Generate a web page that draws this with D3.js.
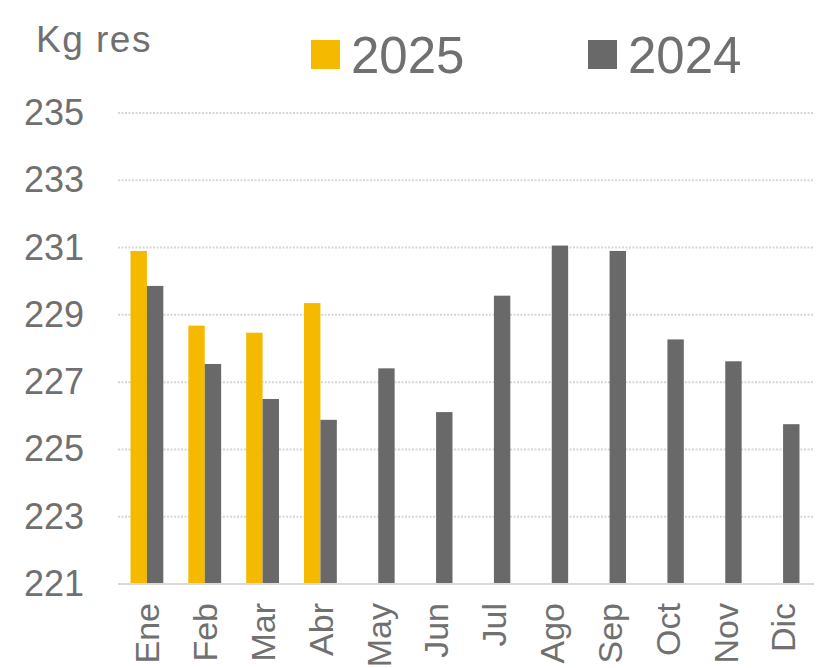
<!DOCTYPE html>
<html>
<head>
<meta charset="utf-8">
<script src="https://cdn.jsdelivr.net/npm/d3@7"></script>
<style>
  body { margin: 0; background: #fff; }
  text { font-family: "Liberation Sans", Arial, sans-serif; fill: #707070; }
</style>
</head>
<body>
<div id="chart"></div>
<script>
const months = ["Ene", "Feb", "Mar", "Abr", "May", "Jun", "Jul", "Ago", "Sep", "Oct", "Nov", "Dic"] ;
const series = ["2025", "2024"] ;
const vals2025 = [230.9, 228.68, 228.47, 229.35, null, null, null, null, null, null, null, null] ;
const vals2024 = [229.86, 227.54, 226.5, 225.88, 227.41, 226.11, 229.57, 231.06, 230.9, 228.27, 227.62, 225.75] ;
const yTicks = [221, 223, 225, 227, 229, 231, 233, 235] ;
const colors = {"2025": "#f5ba00", "2024": "#696969"} ;

const dims = {
  width: 824,
  height: 668,
  margin: {top: 113, right: 10, bottom: 84, left: 118},
} ;
dims.boundedWidth = dims.width - dims.margin.left - dims.margin.right ;
dims.boundedHeight = dims.height - dims.margin.top - dims.margin.bottom ;

const svg = d3.select("#chart").append("svg")
    .attr("width", dims.width)
    .attr("height", dims.height) ;

const bounds = svg.append("g")
    .attr("transform", `translate(${dims.margin.left},${dims.margin.top})`) ;

const xScale = d3.scaleBand()
  .domain(months)
  .range([0, 694])
  .paddingInner(0.433)
  .paddingOuter(0.2165) ;

const xSub = d3.scaleBand()
  .domain(series)
  .range([0, xScale.bandwidth()]) ;

const yScale = d3.scaleLinear()
  .domain([221, 235])
  .range([dims.boundedHeight, 0]) ;

// gridlines
bounds.append("g")
  .selectAll("line")
  .data(yTicks.filter(d => d > 221))
  .join("line")
    .attr("x1", 0)
    .attr("x2", 696)
    .attr("y1", d => yScale(d))
    .attr("y2", d => yScale(d))
    .attr("stroke", "#d6d6d6")
    .attr("stroke-width", 2)
    .attr("stroke-dasharray", "2,1.5") ;

// bars
const rows = months.map((m, i) => ({month: m, values: [
  {key: "2025", value: vals2025[i]},
  {key: "2024", value: vals2024[i]},
]})) ;

bounds.append("g")
  .selectAll("g")
  .data(rows)
  .join("g")
    .attr("transform", d => `translate(${xScale(d.month)},0)`)
  .selectAll("rect")
  .data(d => d.values.filter(v => v.value != null))
  .join("rect")
    .attr("x", d => xSub(d.key))
    .attr("y", d => yScale(d.value))
    .attr("width", xSub.bandwidth())
    .attr("height", d => yScale(221) - yScale(d.value))
    .attr("fill", d => colors[d.key]) ;

// baseline
bounds.append("line")
  .attr("x1", 0)
  .attr("x2", 696)
  .attr("y1", yScale(221))
  .attr("y2", yScale(221))
  .attr("stroke", "#d9d9d9")
  .attr("stroke-width", 2) ;

// y labels
const yAxis = bounds.append("g")
  .call(d3.axisLeft(yScale).tickValues(yTicks).tickSize(0).tickPadding(34).tickFormat(d3.format("d"))) ;
yAxis.select(".domain").remove() ;
yAxis.selectAll("text")
  .style("font-size", "36px")
  .style("font-family", "'Liberation Sans', Arial, sans-serif")
  .attr("fill", "#707070") ;

// x labels
const xAxis = bounds.append("g")
  .attr("transform", `translate(0,${dims.boundedHeight})`)
  .call(d3.axisBottom(xScale).tickSize(0).tickPadding(0)) ;
xAxis.select(".domain").remove() ;
xAxis.selectAll("text")
  .attr("transform", "rotate(-90)")
  .attr("text-anchor", "end")
  .attr("x", -19)
  .attr("y", 0)
  .attr("dy", "0.36em")
  .style("font-size", "34px")
  .style("font-family", "'Liberation Sans', Arial, sans-serif")
  .attr("fill", "#707070") ;

// title / unit
svg.append("text")
  .attr("x", 36)
  .attr("y", 52)
  .style("font-size", "37px")
  .style("letter-spacing", "1.5px")
  .text("Kg res") ;

// legend
const legend = svg.append("g")
  .selectAll("g")
  .data(series)
  .join("g")
    .attr("transform", (d, i) => `translate(${[311, 588][i]},40)`) ;
legend.append("rect")
  .attr("width", 29)
  .attr("height", 29)
  .attr("fill", d => colors[d]) ;
legend.append("text")
  .attr("x", 40)
  .attr("y", 33)
  .style("font-size", "51px")
  .text(d => d) ;
</script>
</body>
</html>
